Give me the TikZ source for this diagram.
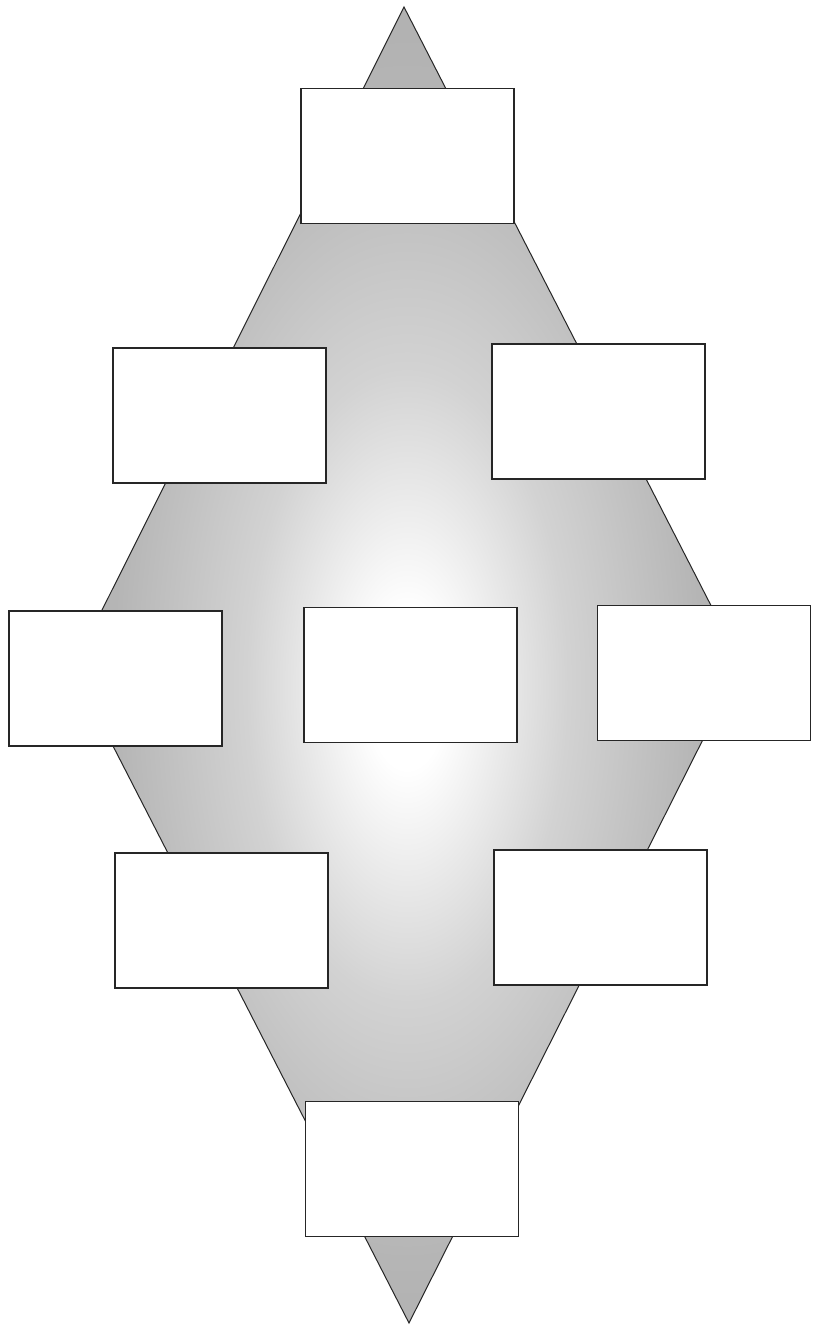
\documentclass[tikz,border=0pt]{standalone}
\pgfdeclareradialshading{diamshade}{\pgfpoint{0bp}{-1bp}}{%
  color(0bp)=(white);
  color(3bp)=(white);
  color(12bp)=(gray!35);
  color(22bp)=(gray!58);
  color(35bp)=(gray!70);
  color(50bp)=(gray!88)}
\begin{document}
\begin{tikzpicture}[x=1pt,y=-1pt,
  box/.style={draw=black!85, line width=1.4pt, fill=white, rectangle,
    inner sep=0pt, minimum width=213pt, minimum height=135pt},
  diam/.style={draw=black!85, line width=1pt, shading=diamshade}]
\useasboundingbox[fill=white] (0,0) rectangle (812,1326);
% rhombus background
\coordinate (dT) at (404,7);
\coordinate (dR) at (741,664);
\coordinate (dB) at (409,1323);
\coordinate (dL) at (73,668);
\shadedraw[diam] (dT) -- (dR) -- (dB) -- (dL) -- cycle;
% boxes
\node[box] (top) at (407.5,156) {};
\node[box] (ul)  at (219.5,415.5) {};
\node[box] (ur)  at (598.5,411.5) {};
\node[box] (ml)  at (115.5,678.5) {};
\node[box] (c)   at (410.5,675) {};
\node[box] (mr)  at (704,673) {};
\node[box] (ll)  at (221.5,920.5) {};
\node[box] (lr)  at (600.5,917.5) {};
\node[box] (bot) at (412,1169) {};
\end{tikzpicture}
\end{document}
